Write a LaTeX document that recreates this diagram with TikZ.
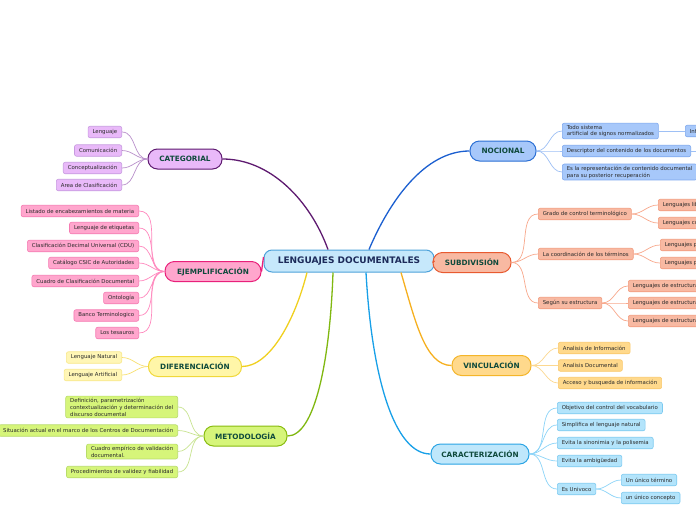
\documentclass[tikz,border=0pt]{standalone}
\usepackage{fontspec}
\setmainfont{DejaVu Sans}
\begin{document}
\begin{tikzpicture}[x=1pt,y=-1pt,
  ctrbox/.style={draw=#1, fill=ctrfill, line width=1pt, rounded corners=8pt,
    minimum width=170pt, minimum height=22pt, inner sep=0pt,
    font=\fontsize{9}{10}\selectfont\bfseries, text=ctrtext},
  brbox/.style 2 args={draw=#1, fill=#2, line width=1pt, rounded corners=9.5pt,
    minimum height=20pt, inner sep=0pt,
    font=\fontsize{7.3}{8}\selectfont\bfseries, text=brtext},
  leaf/.style 2 args={draw=#1, fill=#2, line width=0.6pt, rounded corners=2pt,
    minimum height=11.5pt, inner xsep=4.5pt, inner ysep=1.8pt, align=left,
    font=\fontsize{5.4}{6.9}\selectfont, text=leaftext},
  lc/.style={draw=#1, line width=0.7pt},
  mc/.style={draw=#1, line width=1.3pt}
]
\definecolor{ctrfill}{HTML}{C6E8FB}
\definecolor{ctrline}{HTML}{4EA2DA}
\definecolor{ctrtext}{HTML}{1C2B5A}
\definecolor{brtext}{HTML}{0F4A3C}
\definecolor{leaftext}{HTML}{2A2A2A}
% nocional
\definecolor{nocF}{HTML}{A7C8FA}\definecolor{nocB}{HTML}{2B6FD4}\definecolor{nocC}{HTML}{1B5FD0}
\definecolor{nocLB}{HTML}{7EA8EE}\definecolor{nocLC}{HTML}{9EC0F5}
% categorial
\definecolor{catF}{HTML}{E9B9F9}\definecolor{catB}{HTML}{5E1A70}
\definecolor{catLB}{HTML}{C79AE0}\definecolor{catLC}{HTML}{B98FCB}
% ejemplificacion
\definecolor{ejeF}{HTML}{FFA6CD}\definecolor{ejeB}{HTML}{E8207A}
\definecolor{ejeLB}{HTML}{F57BB2}\definecolor{ejeLC}{HTML}{FF88BE}
% diferenciacion
\definecolor{difF}{HTML}{FFF6A8}\definecolor{difB}{HTML}{F0D83A}\definecolor{difC}{HTML}{F0D020}
\definecolor{difLF}{HTML}{FFF6B6}\definecolor{difLB}{HTML}{F8E88A}\definecolor{difLC}{HTML}{F8E070}
% metodologia
\definecolor{metF}{HTML}{D6F57A}\definecolor{metB}{HTML}{88BC10}\definecolor{metC}{HTML}{80B810}
\definecolor{metLB}{HTML}{B8DC6A}\definecolor{metLC}{HTML}{C8E490}
% subdivision
\definecolor{subF}{HTML}{F8B9A2}\definecolor{subB}{HTML}{E85A30}
\definecolor{subLB}{HTML}{F29A7C}\definecolor{subLC}{HTML}{F8A88C}
% vinculacion
\definecolor{vinF}{HTML}{FFD98C}\definecolor{vinB}{HTML}{F4B52A}\definecolor{vinC}{HTML}{F6B020}
\definecolor{vinLB}{HTML}{FAC86A}\definecolor{vinLC}{HTML}{FCD890}
% caracterizacion
\definecolor{carF}{HTML}{BFE7FB}\definecolor{carB}{HTML}{2AA4E4}\definecolor{carC}{HTML}{18A0E8}
\definecolor{carLF}{HTML}{B3E4FB}\definecolor{carLB}{HTML}{7CCAF0}\definecolor{carLC}{HTML}{8CD4F8}

\useasboundingbox (0,0) rectangle (696,520);
\fill[white] (0,0) rectangle (696,520);
\clip (0,0) rectangle (696,520);

% ---------- main nodes ----------
\node[ctrbox=ctrline] (ctr) at (349,261) {LENGUAJES DOCUMENTALES};
\node[brbox={nocB}{nocF}, minimum width=66pt] (noc) at (503,151) {NOCIONAL};
\node[brbox={catB}{catF}, minimum width=74pt] (cat) at (185,159) {CATEGORIAL};
\node[brbox={ejeB}{ejeF}, minimum width=96pt] (eje) at (213,271.5) {EJEMPLIFICACIÓN};
\node[brbox={difB}{difF}, minimum width=93pt] (dif) at (195,366.5) {DIFERENCIACIÓN};
\node[brbox={metB}{metF}, minimum width=83pt] (met) at (245.5,436) {METODOLOGÍA};
\node[brbox={subB}{subF}, minimum width=78pt] (sub) at (472,262.5) {SUBDIVISIÓN};
\node[brbox={vinB}{vinF}, minimum width=79pt] (vin) at (491.5,365.5) {VINCULACIÓN};
\node[brbox={carB}{carF}, minimum width=98pt] (car) at (480,454) {CARACTERIZACIÓN};

% ---------- main connectors ----------
\draw[mc=catB] ([xshift=-21pt]ctr.north) .. controls (310,200) and (270,159) .. (cat.east);
\draw[mc=nocC] ([xshift=20pt]ctr.north) .. controls (390,200) and (425,151) .. (noc.west);
\draw[mc=ejeB] (eje.east) -- ([yshift=4pt]ctr.west);
\draw[mc=difC] ([xshift=-42pt]ctr.south) .. controls (295,320) and (270,366.5) .. (dif.east);
\draw[mc=metC] ([xshift=-16pt]ctr.south) .. controls (330,360) and (315,436) .. (met.east);
\draw[mc=subB] (ctr.east) -- (sub.west);
\draw[mc=vinC] ([xshift=52pt]ctr.south) .. controls (415,320) and (425,365.5) .. (vin.west);
\draw[mc=carC] ([xshift=17pt]ctr.south) .. controls (372,380) and (395,454) .. (car.west);

% ---------- CATEGORIAL leaves ----------
\foreach \n/\y/\t in {c1/132/Lenguaje, c2/150.5/Comunicación, c3/168/Conceptualización, c4/185/Area de Clasificación}{
  \node[leaf={catLB}{catF}, anchor=east] (\n) at (122,\y) {\t};
  \draw[lc=catLC] (cat.west) to[out=180,in=0] (\n.east);
}
% ---------- EJEMPLIFICACION leaves ----------
\foreach \n/\y/\t in {e1/211/Listado de encabezamientos de materia, e2/228/Lenguaje de etiquetas,
  e3/246/Clasificación Decimal Universal (CDU), e4/263/Catálogo CSIC de Autoridades,
  e5/281/Cuadro de Clasificación Documental, e6/298/Ontología, e7/315.5/Banco Terminologico, e8/333/Los tesauros}{
  \node[leaf={ejeLB}{ejeF}, anchor=east] (\n) at (139,\y) {\t};
  \draw[lc=ejeLC] (eje.west) to[out=180,in=0] (\n.east);
}
% ---------- DIFERENCIACION leaves ----------
\foreach \n/\y/\t in {d1/357.5/Lenguaje Natural, d2/375/Lenguaje Artificial}{
  \node[leaf={difLB}{difLF}, anchor=east] (\n) at (122,\y) {\t};
  \draw[lc=difLC] (dif.west) to[out=180,in=0] (\n.east);
}
% ---------- METODOLOGIA leaves ----------
\node[leaf={metLB}{metF}, anchor=east] (m1) at (178,407) {Definición, parametrización\\contextualización y determinación del\\discurso documental};
\node[leaf={metLB}{metF}, anchor=east] (m2) at (178,430.5) {Situación actual en el marco de los Centros de Documentación};
\node[leaf={metLB}{metF}, anchor=east] (m3) at (178,451.5) {Cuadro empírico de validación\\documental.};
\node[leaf={metLB}{metF}, anchor=east] (m4) at (178,472) {Procedimientos de validez y fiabilidad};
\foreach \n in {m1,m2,m3,m4}{\draw[lc=metLC] (met.west) to[out=180,in=0] (\n.east);}

% ---------- NOCIONAL leaves ----------
\node[leaf={nocLB}{nocF}, anchor=west] (n1) at (562,131) {Todo sistema\\artificial de signos normalizados};
\node[leaf={nocLB}{nocF}, anchor=west] (n2) at (562,151) {Descriptor del contenido de los documentos};
\node[leaf={nocLB}{nocF}, anchor=west] (n3) at (562,172) {Es la representación de contenido documental\\para su posterior recuperación};
\foreach \n in {n1,n2,n3}{\draw[lc=nocLC] (noc.east) to[out=0,in=180] (\n.west);}
\node[leaf={nocLB}{nocF}, anchor=west] (n1a) at (685,131) {Información};
\draw[lc=nocLC] (n1.east) -- (n1a.west);
\coordinate (n2a) at (700,151);
\draw[lc=nocLC] (n2.east) -- (n2a);

% ---------- SUBDIVISION leaves ----------
\node[leaf={subLB}{subF}, anchor=west] (s1) at (538,214) {Grado de control terminológico};
\node[leaf={subLB}{subF}, anchor=west] (s2) at (538,254) {La coordinación de los términos};
\node[leaf={subLB}{subF}, anchor=west] (s3) at (538,303) {Según su estructura};
\foreach \n in {s1,s2,s3}{\draw[lc=subLC] (sub.east) to[out=0,in=180] (\n.west);}
\node[leaf={subLB}{subF}, anchor=west] (s1a) at (658,205) {Lenguajes libres};
\node[leaf={subLB}{subF}, anchor=west] (s1b) at (658,223) {Lenguajes controlados};
\node[leaf={subLB}{subF}, anchor=west] (s2a) at (660,245) {Lenguajes precoordinados};
\node[leaf={subLB}{subF}, anchor=west] (s2b) at (660,263) {Lenguajes postcoordinados};
\node[leaf={subLB}{subF}, anchor=west] (s3a) at (628,286) {Lenguajes de estructura jerárquica};
\node[leaf={subLB}{subF}, anchor=west] (s3b) at (628,303) {Lenguajes de estructura combinatoria};
\node[leaf={subLB}{subF}, anchor=west] (s3c) at (628,321) {Lenguajes de estructura asociativa};
\foreach \n in {s1a,s1b}{\draw[lc=subLC] (s1.east) to[out=0,in=180] (\n.west);}
\foreach \n in {s2a,s2b}{\draw[lc=subLC] (s2.east) to[out=0,in=180] (\n.west);}
\foreach \n in {s3a,s3b,s3c}{\draw[lc=subLC] (s3.east) to[out=0,in=180] (\n.west);}

% ---------- VINCULACION leaves ----------
\foreach \n/\y/\t in {v1/348/Analisis de Información, v2/365.5/Analisis Documental, v3/383/Acceso y busqueda de información}{
  \node[leaf={vinLB}{vinF}, anchor=west] (\n) at (558,\y) {\t};
  \draw[lc=vinLC] (vin.east) to[out=0,in=180] (\n.west);
}
% ---------- CARACTERIZACION leaves ----------
\foreach \n/\y/\t in {k1/408/Objetivo del control del vocabulario, k2/425/Simplifica el lenguaje natural,
  k3/443/Evita la sinonimia y la polisemia, k4/461/Evita la ambigüedad, k5/489/Es Univoco}{
  \node[leaf={carLB}{carLF}, anchor=west] (\n) at (557,\y) {\t};
  \draw[lc=carLC] (car.east) to[out=0,in=180] (\n.west);
}
\node[leaf={carLB}{carLF}, anchor=west] (k5a) at (621,480) {Un único término};
\node[leaf={carLB}{carLF}, anchor=west] (k5b) at (621,498) {un único concepto};
\foreach \n in {k5a,k5b}{\draw[lc=carLC] (k5.east) to[out=0,in=180] (\n.west);}
\end{tikzpicture}
\end{document}
